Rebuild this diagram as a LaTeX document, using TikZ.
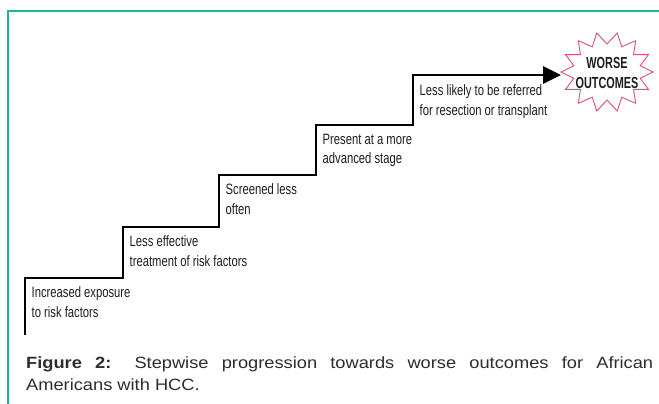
\documentclass[tikz,border=0pt]{standalone}
\usepackage{fontspec}
\setmainfont{Liberation Sans}
\newfontfamily\narrowfont[FakeStretch=0.75]{Liberation Sans}
\newfontfamily\burstfont[FakeStretch=0.68]{Liberation Sans}
\newfontfamily\capfont[FakeStretch=1.12]{Liberation Sans}
\usetikzlibrary{arrows.meta}
\definecolor{frameteal}{RGB}{30,178,150}
\definecolor{burstred}{RGB}{214,84,108}
\definecolor{txt}{RGB}{30,30,30}
\definecolor{captxt}{RGB}{45,45,45}
\tikzset{
  frameline/.style={draw=frameteal, line width=1.1pt},
  stair/.style={draw=black, line width=2.7pt, line join=miter},
  steplabel/.style={anchor=north west, inner sep=0pt, align=left, text=txt,
    font=\narrowfont\fontsize{15}{19.5}\selectfont},
  burstlabel/.style={inner sep=0pt, align=center, text=txt,
    font=\burstfont\bfseries\fontsize{16}{20}\selectfont},
  burstline/.style={draw=burstred, line width=0.9pt, line join=miter},
  caption/.style={anchor=base west, inner sep=0pt, text=captxt,
    font=\capfont\fontsize{16.3}{22}\selectfont},
}
\begin{document}
\begin{tikzpicture}[x=1pt, y=-1pt]
\useasboundingbox (0,0) rectangle (659,404);
\fill[white] (0,0) rectangle (659,404);
% frame
\draw[frameline] (659,11) -- (8,11) -- (8,404);
% stair coordinates
\coordinate (s0) at (25,335);
\coordinate (c1) at (123,278);
\coordinate (c2) at (219,227);
\coordinate (c3) at (316,175);
\coordinate (c4) at (413,125);
\coordinate (tip) at (561,75);
\draw[stair, -{Triangle[length=18pt, width=17pt]}]
  (s0) |- (c1) |- (c2) |- (c3) |- (c4) |- (tip);
% labels
\node[steplabel] (l1) at (31.5,286.5) {Increased exposure\\to risk factors};
\node[steplabel] (l2) at (129.5,235.5) {Less effective\\treatment of risk factors};
\node[steplabel] (l3) at (225.5,183.5) {Screened less\\often};
\node[steplabel] (l4) at (322.5,133.5) {Present at a more\\advanced stage};
\node[steplabel] (l5) at (419.5,84.5) {Less likely to be referred\\for resection or transplant};
% starburst
\node[burstlabel] (outcome) at (607,73) {WORSE\\OUTCOMES};
\draw[burstline] plot[samples at={0,...,27}, variable=\k]
  ({607+ifthenelse(mod(\k,2)==0,46,34)*cos(\k*360/28+180)},
   {72+ifthenelse(mod(\k,2)==0,40,28)*sin(\k*360/28+180)}) -- cycle;
% caption
\node[caption] (cap1) at (26,368) {\makebox[627pt][s]{\textbf{Figure 2:} Stepwise progression towards worse outcomes for African}};
\node[caption] (cap2) at (26,390) {Americans with HCC.};
\end{tikzpicture}
\end{document}
